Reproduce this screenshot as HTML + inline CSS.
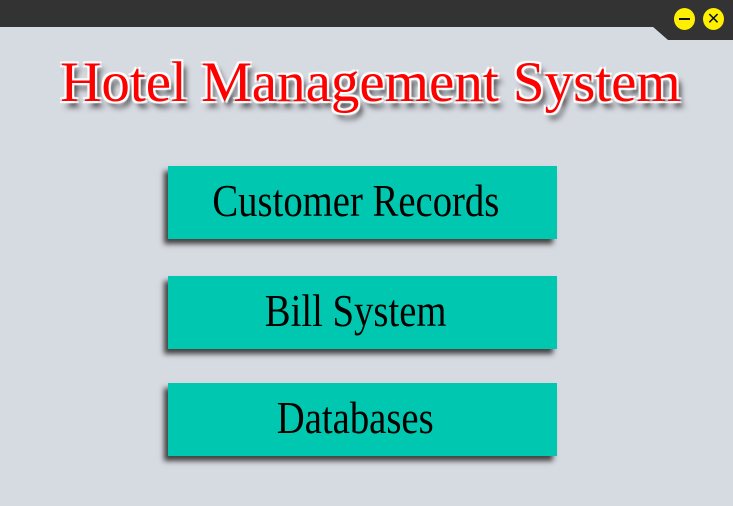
<!DOCTYPE html>
<html><head><style>
body{margin:0;width:733px;height:506px;background:#d6dae1;position:relative;overflow:hidden;font-family:"Liberation Serif",serif}
.bar{position:absolute;left:0;top:0;width:733px;height:27px;background:#333}
.notch{position:absolute;left:652px;top:26px;width:100px;height:14px;background:#333;clip-path:polygon(0 0,100% 0,100% 100%,16px 100%)}
.c{position:absolute;top:8px;width:21px;height:22px;border-radius:50%;background:#ffef00;color:#111;font:16px "DejaVu Sans",sans-serif;text-align:center;line-height:22px}
h1{position:absolute;left:4px;width:733px;top:50px;margin:0;text-align:center;font-weight:normal;font-size:57px;color:#f00;text-shadow:2px 2px 1px #fff,-2px -2px 1px #fff,2px -2px 1px #fff,-2px 2px 1px #fff,4px 6px 6px #333}
.b{position:absolute;left:168px;width:375px;padding-right:14px;height:73px;background:#00c8b0;box-shadow:-4px 5px 5px #444;text-align:center;line-height:70px;font-size:45px;color:#000}
.b span{display:inline-block;transform:scaleX(0.86)}
</style></head><body>
<div class="bar"></div><div class="notch"></div>
<div class="c" style="left:674px"><div style="position:absolute;left:5px;top:10px;width:11px;height:2px;background:#111"></div></div>
<div class="c" style="left:703px">✕</div>
<h1>Hotel Management System</h1>
<div class="b" style="top:166px"><span>Customer Records</span></div>
<div class="b" style="top:276px"><span>Bill System</span></div>
<div class="b" style="top:383px"><span>Databases</span></div>
</body></html>
